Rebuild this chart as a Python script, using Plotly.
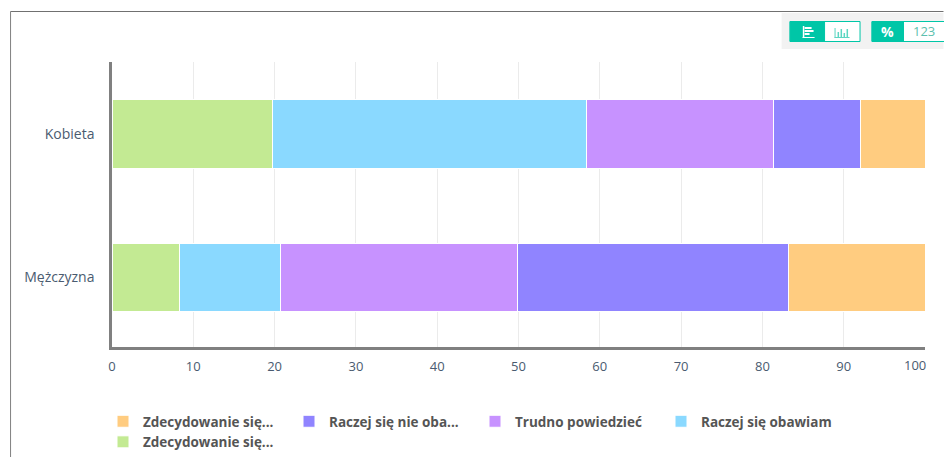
import plotly.graph_objects as go

categories = ["Kobieta", "Mężczyzna"]
series_names = ["Zdecydowanie się...", "Raczej się obawiam", "Trudno powiedzieć", "Raczej się nie oba...", "Zdecydowanie się..."]
series_values = [
    [19.7, 8.3],
    [38.7, 12.4],
    [23.0, 29.2],
    [10.7, 33.3],
    [7.9, 16.8],
]
series_colors = ["#C3EA93", "#8AD9FF", "#C792FF", "#9084FF", "#FFCC80"]
tick_values = [0, 10, 20, 30, 40, 50, 60, 70, 80, 90, 100]
tick_labels = ["0", "10", "20", "30", "40", "50", "60", "70", "80", "90", ""]

W, H = 944, 457
L, R, T, B = 112, 925.5, 62, 347
FONT = "Open Sans"
TEAL = "#00C6A7"

def px(x):
    return (x - L) / (R - L)

def py(y):
    return (B - y) / (B - T)

fig = go.Figure()
for name, vals, col in zip(series_names, series_values, series_colors):
    fig.add_trace(go.Bar(
        y=categories, x=vals, name=name, orientation="h",
        marker=dict(color=col, line=dict(color="#FFFFFF", width=1)),
    ))

def rect(x0, y0, x1, y1, fill, line=None, width=0):
    s = dict(xref="paper", yref="paper", layer="above",
             line=dict(color=line or fill, width=width),
             fillcolor=fill)
    s.update(type="rect", x0=px(x0), x1=px(x1), y0=py(y0), y1=py(y1))
    return s

def seg(x0, y0, x1, y1, color, width=1):
    return dict(type="line", xref="paper", yref="paper", layer="above",
                x0=px(x0), x1=px(x1), y0=py(y0), y1=py(y1),
                line=dict(color=color, width=width))

shapes = [
    seg(10.5, 11.5, 10.5, 457, "#808080", 1),
    seg(10.5, 11.5, 944, 11.5, "#707070", 1),
    rect(782, 13, 944, 49, "#F2F2F2"),
    rect(790.5, 21.5, 860.5, 41.5, "#FFFFFF", TEAL, 1),
    rect(790.5, 21.5, 825, 41.5, TEAL, TEAL, 1),
    rect(872.5, 21.5, 946, 41.5, "#FFFFFF", TEAL, 1),
    rect(872.5, 21.5, 904, 41.5, TEAL, TEAL, 1),
    # horizontal-bar icon
    seg(804, 26, 804, 38, "#FFFFFF", 1.5),
    seg(803, 37.5, 815, 37.5, "#FFFFFF", 1),
    rect(805, 27, 812, 29, "#FFFFFF"),
    rect(805, 30, 814, 32, "#FFFFFF"),
    rect(805, 33, 810, 35, "#FFFFFF"),
    # vertical-bar icon
    seg(835, 37.5, 850, 37.5, "#5CD6C2", 1),
    seg(835.5, 28, 835.5, 38, "#5CD6C2", 1),
    rect(838, 32, 839.5, 37, "#5CD6C2"),
    rect(841, 29, 842.5, 37, "#5CD6C2"),
    rect(844, 33, 845.5, 37, "#5CD6C2"),
    rect(847, 29, 848.5, 37, "#5CD6C2"),
]

annotations = [
    dict(text="<b>%</b>", xref="paper", yref="paper", x=px(888), y=py(31.5),
         showarrow=False, xanchor="center", yanchor="middle",
         font=dict(family=FONT, size=14, color="#FFFFFF")),
    dict(text="123", xref="paper", yref="paper", x=px(924), y=py(31.5),
         showarrow=False, xanchor="center", yanchor="middle",
         font=dict(family=FONT, size=13, color="#5CBFAE")),
    dict(text="100", xref="x", yref="paper", x=100, y=py(365),
         showarrow=False, xanchor="right", yanchor="middle", xshift=3,
         font=dict(family=FONT, size=13, color="#4A5B70")),
]

fig.update_layout(
    width=W, height=H,
    margin=dict(l=L, r=W - R, t=T, b=H - B, pad=0, autoexpand=False),
    barmode="stack", bargap=0.523,
    plot_bgcolor="#FFFFFF", paper_bgcolor="#FFFFFF",
    font=dict(family=FONT, size=13, color="#4A5B70"),
    xaxis=dict(range=[0, 100], tickmode="array", tickvals=tick_values, ticktext=tick_labels,
               showgrid=True, gridcolor="#EBEBEB", gridwidth=1, zeroline=False,
               showline=True, linecolor="#808080", linewidth=2.5,
               ticks="outside", ticklen=6, tickcolor="rgba(0,0,0,0)", tickangle=0,
               tickfont=dict(family=FONT, size=13, color="#4A5B70"), fixedrange=True),
    yaxis=dict(categoryorder="array", categoryarray=categories, range=[1.484, -0.502],
               showgrid=False, zeroline=False, showline=True, linecolor="#808080", linewidth=2.5,
               ticks="outside", ticklen=12, tickcolor="rgba(0,0,0,0)",
               tickfont=dict(family=FONT, size=14, color="#4A5B70"), fixedrange=True),
    legend=dict(orientation="h", x=px(103), y=py(406), xanchor="left", yanchor="top",
                traceorder="reversed", entrywidth=141, entrywidthmode="pixels",
                itemwidth=30, itemclick=False, itemdoubleclick=False,
                font=dict(family=FONT, size=13.5, color="#555555", weight="bold"),
                bgcolor="rgba(0,0,0,0)", tracegroupgap=0),
    shapes=shapes,
    annotations=annotations,
    showlegend=True,
)

fig.write_html("out.html", config={"displayModeBar": False},
               post_script="document.body.style.margin='0';document.body.style.overflow='hidden';")
